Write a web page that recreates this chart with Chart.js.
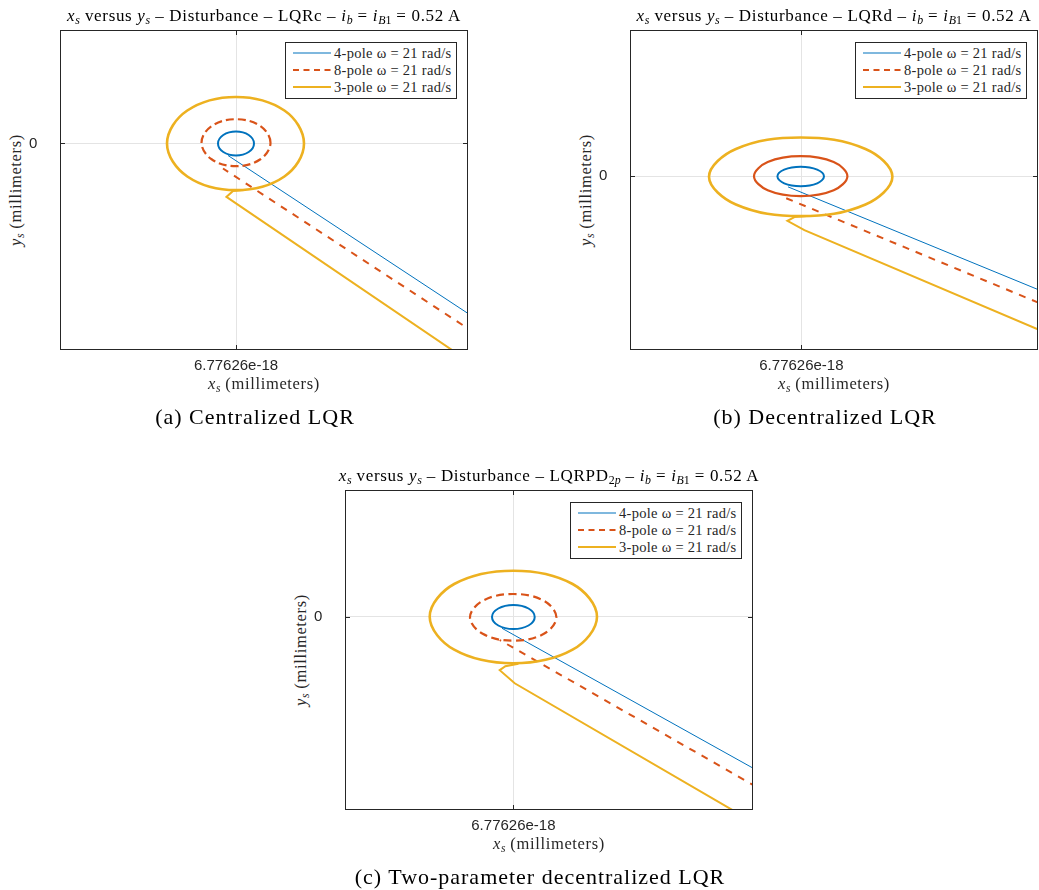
<!DOCTYPE html>
<html>
<head>
<meta charset="utf-8">
<script src="https://cdn.jsdelivr.net/npm/chart.js@4.4.1/dist/chart.umd.min.js"></script>
<style>
  html, body { margin: 0; background: #fff; }
  #page { position: relative; width: 1039px; height: 890px; overflow: hidden; }
  canvas { position: absolute; }
  .txt { position: absolute; white-space: nowrap; line-height: 1; transform: translate(-50%, -50%);
         font-family: "Liberation Serif", serif; letter-spacing: 0.04em; }
  .ttl { font-size: 17px; color: #000; }
  .axl { font-size: 16.5px; color: #262626; }
  .cap { font-size: 22px; color: #000; letter-spacing: 0.045em; }
  .rot { transform: translate(-50%, -50%) rotate(-90deg); }
  .txt sub { font-size: 0.7em; vertical-align: -0.3em; line-height: 0; letter-spacing: 0; }
  .lg { position: absolute; width: 170px; height: 55px; border: 1px solid #262626; background: #fff; }
  .lg-row { position: absolute; left: 7px; height: 14px; display: flex; align-items: center;
            font-family: "Liberation Serif", serif; font-size: 14.5px; letter-spacing: 0.02em; color: #262626; white-space: nowrap; }
  .lg-row svg { margin-right: 3px; }
</style>
</head>
<body>
<div id="page"></div>
<script>
// legend entries, tick labels, titles
const seriesNames = ["4-pole ω = 21 rad/s", "8-pole ω = 21 rad/s", "3-pole ω = 21 rad/s"];
const xTickLabels = ["6.77626e-18"];
const yTickLabels = ["0"];
const yLabel = '<i>y</i><sub><i>s</i></sub> (millimeters)';
const xLabel = '<i>x</i><sub><i>s</i></sub> (millimeters)';
const titles = [
  '<i>x</i><sub><i>s</i></sub> versus <i>y</i><sub><i>s</i></sub> – Disturbance – LQRc – <i>i</i><sub><i>b</i></sub> = <i>i</i><sub><i>B</i>1</sub> = 0.52 A',
  '<i>x</i><sub><i>s</i></sub> versus <i>y</i><sub><i>s</i></sub> – Disturbance – LQRd – <i>i</i><sub><i>b</i></sub> = <i>i</i><sub><i>B</i>1</sub> = 0.52 A',
  '<i>x</i><sub><i>s</i></sub> versus <i>y</i><sub><i>s</i></sub> – Disturbance – LQRPD<sub>2<i>p</i></sub> – <i>i</i><sub><i>b</i></sub> = <i>i</i><sub><i>B</i>1</sub> = 0.52 A'
];
const captions = ["(a) Centralized LQR", "(b) Decentralized LQR", "(c) Two-parameter decentralized LQR"];

// axis limits [xmin, xmax, ymin, ymax], same units as the traces below
const limitsA = [-176, 232, -206.7, 113.6];
const limitsB = [-171.4, 236.6, -174, 146.3];
const limitsC = [-168.4, 239.6, -193.3, 126.7];

// (a) LQRc: closed orbit around the origin + the approach from the lower right
const ringA4 = [[18, 0], [12.7, 8.5], [0, 12], [-12.7, 8.5], [-18, 0], [-12.7, -8.5], [0, -12], [12.7, -8.5]];
const tailA4 = [[250, -182], [-8, -12]];
const ringA8 = [[34.5, 0.8], [24.4, 17.4], [0, 24.3], [-24.4, 17.4], [-34.5, 0.8], [-24.4, -15.8], [0, -22.7], [24.4, -15.8]];
const tailA8 = [[250, -197], [-13, -25]];
const ringA3 = [[68, 0], [48.4, 33], [0, 46.6], [-48.7, 33], [-69, 0], [-48.7, -33], [0, -46.7], [48.4, -33]];
const tailA3 = [[240, -223], [0, -60], [-9.6, -53.5], [-3, -47.5], [8, -46.5]];

// (b) LQRd
const ringB4 = [[22.6, -0.3], [15.8, 6.5], [-0.7, 9.4], [-17.2, 6.5], [-24, -0.3], [-17.2, -7.2], [-0.7, -10], [15.8, -7.2]];
const tailB4 = [[250, -119], [-13.4, -10.7]];
const ringB8 = [[46, 0], [32.3, 14.1], [-0.7, 20], [-33.7, 14.1], [-47.4, 0], [-33.7, -14.1], [-0.7, -20], [32.3, -14.1]];
const tailB8 = [[250, -132], [-19, -20.5]];
const ringB3 = [[91, -0.6], [64.1, 27.2], [-0.7, 38.7], [-65.5, 27.2], [-92.4, -0.6], [-65.5, -28.4], [-0.7, -40], [64.1, -28.4]];
const tailB3 = [[250, -159], [3, -54], [-14, -44.7], [-7, -41], [5, -40]];

// (c) LQRPD2p
const ringC4 = [[21.3, -0.3], [15.1, 8.2], [0, 11.7], [-15.1, 8.2], [-21.4, -0.3], [-15.1, -8.8], [0, -12.3], [15.1, -8.8]];
const tailC4 = [[255, -160], [-11.4, -11.6]];
const ringC8 = [[43, -0.6], [30.5, 15.9], [0, 22.7], [-30.7, 15.9], [-43.4, -0.6], [-30.7, -17.1], [0, -24], [30.5, -17.1]];
const tailC8 = [[255, -177], [-13.7, -23.3]];
const ringC3 = [[83.6, 0], [59.2, 32.7], [0, 46], [-59.2, 32.7], [-83.7, 0], [-59.2, -33], [0, -46.6], [59.2, -33]];
const tailC3 = [[240, -205.5], [1.3, -66.6], [-13.7, -53.5], [-8, -49.5], [5, -47]];

// styling / placement
const colors = ["#0072BD", "#D95319", "#EDB120"];
const ringWidth = [2, 2.2, 2.6];
const tailWidth = [1, 2, 2];
const tailDash = [[], [7, 7], []];
const panels = [
  { plot: [60, 30, 468, 350], limits: limitsA, rings: [ringA4, ringA8, ringA3], tails: [tailA4, tailA8, tailA3], ringDash: [8, 4] },
  { plot: [630, 30, 1038, 350], limits: limitsB, rings: [ringB4, ringB8, ringB3], tails: [tailB4, tailB8, tailB3], ringDash: [] },
  { plot: [345, 490, 753, 810], limits: limitsC, rings: [ringC4, ringC8, ringC3], tails: [tailC4, tailC8, tailC3], ringDash: [8, 4.5] },
];

const framePlugin = {
  id: "frame",
  afterDraw(chart) {
    const { ctx, chartArea: a, scales } = chart;
    const x0 = Math.round(scales.x.getPixelForValue(0)) + 0.5;
    const y0 = Math.round(scales.y.getPixelForValue(0)) + 0.5;
    ctx.save();
    ctx.strokeStyle = "#262626";
    ctx.lineWidth = 1;
    ctx.strokeRect(a.left + 0.5, a.top + 0.5, a.right - a.left - 1, a.bottom - a.top - 1);
    ctx.beginPath();
    ctx.moveTo(x0, a.top); ctx.lineTo(x0, a.top + 5);
    ctx.moveTo(x0, a.bottom); ctx.lineTo(x0, a.bottom - 5);
    ctx.moveTo(a.left, y0); ctx.lineTo(a.left + 5, y0);
    ctx.moveTo(a.right, y0); ctx.lineTo(a.right - 5, y0);
    ctx.stroke();
    ctx.restore();
  }
};

const page = document.getElementById("page");
const pts = arr => arr.map(p => ({ x: p[0], y: p[1] }));

function addText(cls, html, x, y) {
  const d = document.createElement("div");
  d.className = "txt " + cls;
  d.innerHTML = html;
  d.style.left = x + "px";
  d.style.top = y + "px";
  page.appendChild(d);
}

function sample(i) {
  const dash = i === 1 ? 'stroke-dasharray="6 4.5"' : "";
  const w = i === 0 ? 1.2 : 2;
  return `<svg width="38" height="6"><line x1="0" y1="3" x2="38" y2="3" stroke="${colors[i]}" stroke-width="${w}" ${dash}/></svg>`;
}

panels.forEach((p, k) => {
  const [L, T, R, B] = p.plot;
  const cx = (L + R) / 2, cy = (T + B) / 2;
  const cv = document.createElement("canvas");
  cv.width = R - L + 37;
  cv.height = B - T + 40;
  cv.style.left = (L - 31) + "px";
  cv.style.top = (T - 10) + "px";
  page.appendChild(cv);

  const datasets = [];
  p.rings.forEach((ring, i) => {
    datasets.push({
      label: seriesNames[i], data: pts(ring), closed: true,
      borderColor: colors[i], borderWidth: ringWidth[i], borderDash: i === 1 ? p.ringDash : [],
      tension: 0.375, order: 3 - i
    });
    datasets.push({
      label: seriesNames[i], data: pts(p.tails[i]),
      borderColor: colors[i], borderWidth: tailWidth[i], borderDash: tailDash[i],
      tension: 0, order: 3 - i
    });
  });

  const chart = new Chart(cv, {
    type: "scatter",
    data: { datasets: datasets.map(d => Object.assign(d, { showLine: true, pointRadius: 0, clip: 0, fill: false })) },
    options: {
      responsive: false, animation: false, devicePixelRatio: 1,
      layout: { padding: { left: 0, top: 10, right: 6, bottom: 0 } },
      plugins: { legend: { display: false }, tooltip: { enabled: false } },
      scales: {
        x: {
          type: "linear", min: p.limits[0], max: p.limits[1],
          afterBuildTicks: s => { s.ticks = [{ value: 0 }]; },
          afterFit: s => { s.height = 30; },
          ticks: { callback: (v, i) => xTickLabels[i], padding: 7, maxRotation: 0, autoSkip: false,
                   color: "#262626", font: { family: "Liberation Sans", size: 15 } },
          grid: { color: "#e4e4e4", drawTicks: false }, border: { display: false }
        },
        y: {
          type: "linear", min: p.limits[2], max: p.limits[3],
          afterBuildTicks: s => { s.ticks = [{ value: 0 }]; },
          afterFit: s => { s.width = 31; },
          ticks: { callback: (v, i) => yTickLabels[i], padding: 0, crossAlign: "far", autoSkip: false,
                   color: "#262626", font: { family: "Liberation Sans", size: 15 } },
          grid: { color: "#e4e4e4", drawTicks: false }, border: { display: false }
        }
      }
    },
    plugins: [framePlugin]
  });

  // the orbits are closed curves: let the line element join last point to first smoothly
  chart.data.datasets.forEach((d, i) => {
    if (d.closed) {
      const el = chart.getDatasetMeta(i).dataset;
      el._loop = true;
      el._fullLoop = true;
    }
  });
  chart.update("none");

  addText("ttl", titles[k], cx, T - 15);
  addText("axl", xLabel, cx, B + 34);
  addText("axl rot", yLabel, L - 44, cy);
  addText("cap", captions[k], cx - 9, B + 67);

  const lg = document.createElement("div");
  lg.className = "lg";
  lg.style.left = (R - 12 - 171) + "px";
  lg.style.top = (T + 12) + "px";
  seriesNames.forEach((name, i) => {
    const row = document.createElement("div");
    row.className = "lg-row";
    row.style.top = (3 + 17 * i) + "px";
    row.innerHTML = sample(i) + "<span>" + name + "</span>";
    lg.appendChild(row);
  });
  page.appendChild(lg);
});
</script>
</body>
</html>
